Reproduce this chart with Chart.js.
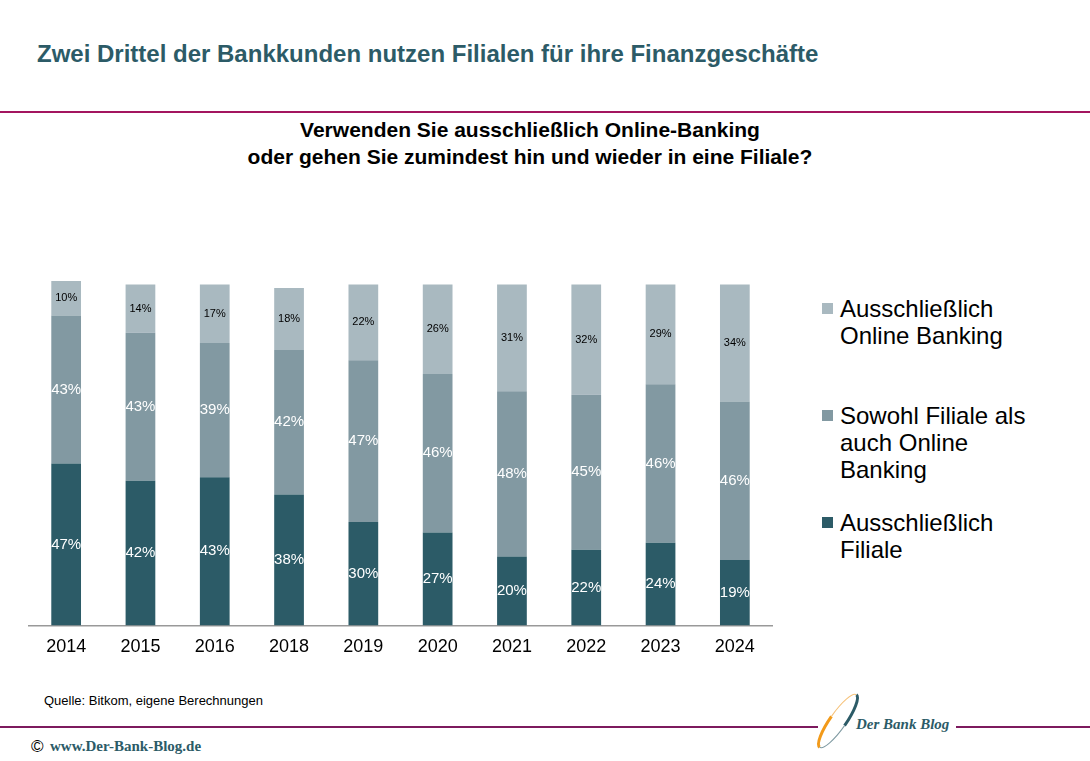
<!DOCTYPE html>
<html>
<head>
<meta charset="utf-8">
<script src="https://cdn.jsdelivr.net/npm/chart.js@4/dist/chart.umd.min.js"></script>
<style>
  body { margin:0; width:1090px; height:761px; background:#fff; position:relative; overflow:hidden; font-family:"Liberation Sans", Arial, sans-serif; }
  .abs { position:absolute; }
  #title { left:37px; top:40px; font-size:24px; font-weight:bold; color:#2c5b67; white-space:nowrap; }
  #topline { left:0; top:111px; width:1090px; height:2px; background:#a3155f; }
  #sub { left:0; width:1060px; top:116px; text-align:center; font-size:21px; font-weight:bold; color:#000; line-height:27px; }
  #wrap { left:0; top:240px; width:800px; height:440px; }
  .leg { left:822px; font-size:24px; line-height:27px; color:#000; }
  .leg i { position:absolute; left:0; top:8px; width:11px; height:11px; }
  .leg span { display:block; margin-left:18px; }
  #src { left:44px; top:693px; font-size:13px; color:#000; }
  .bline { top:726px; height:2px; background:#7d1a5e; }
  #url { left:33px; top:738px; font-family:"Liberation Serif", serif; font-weight:bold; font-size:15px; color:#2c5b67; }
  #copy { left:31px; top:737px; font-size:17px; color:#000; }
  #logo { left:856px; top:716px; font-family:"Liberation Serif", serif; font-weight:bold; font-style:italic; font-size:15px; color:#2c5b67; }
</style>
</head>
<body>
<div class="abs" id="title">Zwei Drittel der Bankkunden nutzen Filialen für ihre Finanzgeschäfte</div>
<div class="abs" id="topline"></div>
<div class="abs" id="sub">Verwenden Sie ausschließlich Online-Banking<br>oder gehen Sie zumindest hin und wieder in eine Filiale?</div>

<div class="abs" id="wrap"><canvas id="chart1"></canvas></div>

<div class="abs leg" style="top:295px"><i style="background:#a9b9c0"></i><span>Ausschließlich<br>Online Banking</span></div>
<div class="abs leg" style="top:402px"><i style="background:#8299a2"></i><span>Sowohl Filiale als<br>auch Online<br>Banking</span></div>
<div class="abs leg" style="top:509px"><i style="background:#2c5b67"></i><span>Ausschließlich<br>Filiale</span></div>

<div class="abs" id="src">Quelle: Bitkom, eigene Berechnungen</div>
<div class="abs bline" style="left:0;width:818px"></div>
<div class="abs bline" style="left:956px;width:134px"></div>
<!-- logo swoosh -->
<svg class="abs" style="left:800px;top:686px" width="70" height="70">
  <g transform="rotate(35 38 35)">
    <path d="M46 35 A8 32 0 0 0 38 3" stroke="#2c5b67" stroke-width="3" fill="none"/>
    <path d="M30 35 A8 32 0 0 0 38 67" stroke="#f29a1a" stroke-width="3" fill="none"/>
    <path d="M38 3 A8 32 0 0 0 30 35" stroke="#f6c27a" stroke-width="1" fill="none"/>
    <path d="M38 67 A8 32 0 0 0 46 35" stroke="#7f9aa2" stroke-width="1" fill="none"/>
  </g>
</svg>
<div class="abs" id="logo">Der Bank Blog</div>
<div class="abs" id="copy">©</div>
<div class="abs" id="url" style="left:50px">www.Der-Bank-Blog.de</div>

<script>
years = ["2014","2015","2016","2018","2019","2020","2021","2022","2023","2024"]
nurFiliale = [47,42,43,38,30,27,20,22,24,19]
beides = [43,43,39,42,47,46,48,45,46,46]
nurOnline = [10,14,17,18,22,26,31,32,29,34]

labelPlugin = {
  id: 'labels',
  afterDatasetsDraw(chart) {
    var ctx = chart.ctx
    chart.data.datasets.forEach((ds, i) => {
      var meta = chart.getDatasetMeta(i)
      meta.data.forEach((bar, j) => {
        ctx.save()
        ctx.fillStyle = ds.labelColor
        ctx.font = ds.labelFont
        ctx.textAlign = 'center'
        ctx.textBaseline = 'middle'
        ctx.fillText(ds.data[j] + '%', bar.x, (bar.y + bar.base) / 2)
        ctx.restore()
      })
    })
  }
}

var ctx = document.getElementById('chart1').getContext('2d')
var myChart = new Chart(ctx, {
  type: 'bar',
  data: {
    labels: years,
    datasets: [
      { label: 'Ausschließlich Filiale', data: nurFiliale, backgroundColor: '#2c5b67', labelColor: '#fff', labelFont: '15px "Liberation Sans", Arial' },
      { label: 'Sowohl Filiale als auch Online Banking', data: beides, backgroundColor: '#8299a2', labelColor: '#fff', labelFont: '15px "Liberation Sans", Arial' },
      { label: 'Ausschließlich Online Banking', data: nurOnline, backgroundColor: '#a9b9c0', labelColor: '#000', labelFont: '11px "Liberation Sans", Arial' }
    ]
  },
  options: {
    responsive: true,
    maintainAspectRatio: false,
    animation: false,
    layout: { padding: { top: 41, left: 29, right: 28, bottom: 19 } },
    plugins: { legend: { display: false }, tooltip: { enabled: false } },
    datasets: { bar: { barPercentage: 0.8, categoryPercentage: 0.5 } },
    scales: {
      x: {
        stacked: true,
        grid: { display: false },
        border: { display: true, color: '#999', width: 1.5 },
        ticks: { color: '#000', font: { size: 18, family: '"Liberation Sans", Arial' }, padding: 3, maxRotation: 0 }
      },
      y: { stacked: true, display: false, min: 0, max: 100 }
    }
  },
  plugins: [labelPlugin]
})
</script>
</body>
</html>
